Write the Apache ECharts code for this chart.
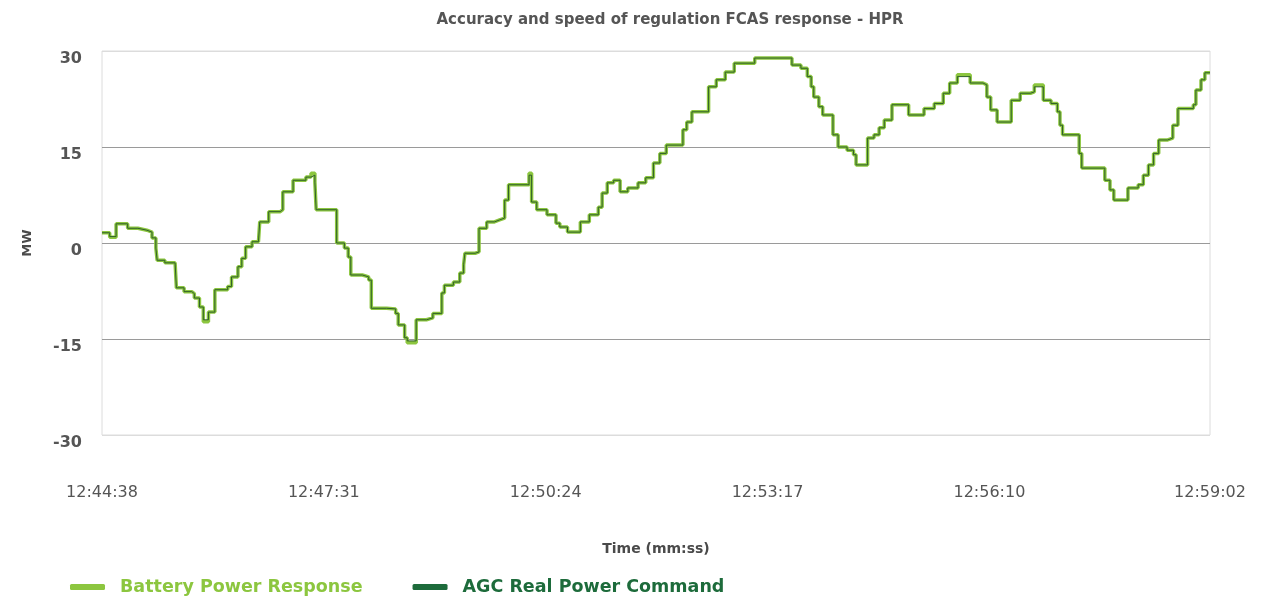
<!DOCTYPE html>
<html>
<head>
<meta charset="utf-8">
<title>Accuracy and speed of regulation FCAS response - HPR</title>
<script src="https://cdn.jsdelivr.net/npm/echarts@6/dist/echarts.min.js"></script>
<style>
    html, body { margin: 0; padding: 0; background: #fff; }
    #chart { width: 1266px; height: 598px; }
</style>
</head>
<body>
<div id="chart"></div>
<script>
// seconds after 12:44:38 at which each level starts
var timeSec = [0, 6, 11, 20, 28, 35, 39, 42, 43, 49, 57, 58, 64, 70, 72, 76, 79, 83, 88, 98,
    101, 106, 109, 112, 117, 122, 123, 130, 139, 141, 149, 159, 163, 166, 167, 183, 189, 192, 194, 203,
    208, 210, 222, 229, 231, 236, 238, 245, 253, 258, 265, 267, 274, 279, 282, 283, 291, 294, 300, 306,
    310, 314, 317, 333, 335, 339, 347, 354, 357, 363, 373, 380, 387, 390, 394, 399, 404, 410, 418, 424,
    430, 435, 440, 453, 456, 460, 473, 479, 486, 493, 509, 538, 545, 550, 553, 555, 559, 562, 570, 574,
    581, 586, 588, 597, 602, 606, 610, 616, 629, 641, 649, 656, 661, 667, 677, 687, 690, 693, 698, 709,
    716, 724, 727, 734, 740, 745, 747, 749, 762, 764, 782, 786, 789, 800, 808, 812, 816, 820, 824, 831,
    835, 839, 851, 853, 857, 860, 864];

var batteryMW = [1.6, 0.9, 3.0, 2.3, 2.0, 1.7, 0.8, -0.8, -2.7, -3.1, -3.4, -7.0, -7.6, -7.9, -8.6, -10.0, -12.3, -10.8, -7.3, -6.8,
    -5.3, -3.7, -2.4, -0.6, 0.2, 0.4, 3.3, 4.9, 5.2, 8.0, 9.8, 10.3, 10.9, 9.5, 5.2, 0.0, -0.8, -2.2, -5.0, -5.3,
    -5.8, -10.2, -10.3, -11.0, -12.8, -14.8, -15.6, -12.0, -11.7, -11.0, -7.8, -6.6, -6.1, -4.7, -3.4, -1.6, -1.4, 2.3, 3.3, 3.6,
    3.9, 6.7, 9.1, 10.9, 6.4, 5.2, 4.4, 3.1, 2.5, 1.7, 3.3, 4.4, 5.6, 7.8, 9.4, 9.8, 8.0, 8.6, 9.4, 10.2,
    12.5, 14.0, 15.3, 17.7, 18.9, 20.5, 24.4, 25.5, 26.7, 28.1, 28.9, 27.8, 27.3, 26.0, 24.4, 22.8, 21.3, 20.0, 16.9, 15.0,
    14.5, 13.8, 12.2, 16.4, 16.9, 18.0, 19.2, 21.6, 20.0, 21.0, 21.8, 23.4, 25.0, 26.3, 25.0, 24.7, 22.8, 20.8, 18.9, 22.3,
    23.4, 23.6, 24.7, 22.3, 21.8, 20.5, 18.4, 16.9, 14.0, 11.7, 9.8, 8.3, 6.7, 8.6, 9.1, 10.6, 12.2, 14.0, 16.1, 16.4,
    18.4, 21.0, 21.6, 23.9, 25.5, 26.6, 26.7];

var agcMW = [1.6, 1.0, 3.0, 2.3, 2.0, 1.7, 0.8, -0.8, -2.7, -3.1, -3.4, -7.0, -7.6, -7.9, -8.6, -10.0, -12.0, -10.8, -7.3, -6.8,
    -5.3, -3.7, -2.4, -0.6, 0.2, 0.4, 3.3, 4.9, 5.2, 8.0, 9.8, 10.3, 10.6, 9.5, 5.2, 0.0, -0.8, -2.2, -5.0, -5.3,
    -5.8, -10.2, -10.3, -11.0, -12.8, -14.8, -15.3, -12.0, -11.7, -11.0, -7.8, -6.6, -6.1, -4.7, -3.4, -1.6, -1.4, 2.3, 3.3, 3.6,
    3.9, 6.7, 9.1, 10.6, 6.4, 5.2, 4.4, 3.1, 2.5, 1.7, 3.3, 4.4, 5.6, 7.8, 9.4, 9.8, 8.0, 8.6, 9.4, 10.2,
    12.5, 14.0, 15.3, 17.7, 18.9, 20.5, 24.4, 25.5, 26.7, 28.1, 28.9, 27.8, 27.3, 26.0, 24.4, 22.8, 21.3, 20.0, 16.9, 15.0,
    14.5, 13.8, 12.2, 16.4, 16.9, 18.0, 19.2, 21.6, 20.0, 21.0, 21.8, 23.4, 25.0, 26.0, 25.0, 24.7, 22.8, 20.8, 18.9, 22.3,
    23.4, 23.6, 24.4, 22.3, 21.8, 20.5, 18.4, 16.9, 14.0, 11.7, 9.8, 8.3, 6.7, 8.6, 9.1, 10.6, 12.2, 14.0, 16.1, 16.4,
    18.4, 21.0, 21.6, 23.9, 25.5, 26.6, 26.7];

var timeTicks = [0, 173, 346, 519, 692, 864];
var startClock = 12 * 3600 + 44 * 60 + 38;
var seriesNames = ['Battery Power Response', 'AGC Real Power Command'];

function pad(n) {
    return (n < 10 ? '0' : '') + n;
}
function clockLabel(sec) {
    var t = startClock + Math.round(sec);
    return Math.floor(t / 3600) + ':' + pad(Math.floor(t / 60) % 60) + ':' + pad(t % 60);
}
function pairs(vals) {
    return timeSec.map(function (t, i) { return [t, vals[i]]; });
}

var chart = echarts.init(document.getElementById('chart'));
var font = 'DejaVu Sans';

var option = {
    animation: false,
    title: {
        text: 'Accuracy and speed of regulation FCAS response - HPR',
        left: 665,
        top: 8,
        textAlign: 'center',
        textStyle: { fontFamily: font, fontSize: 15, fontWeight: 'bold', color: '#555' }
    },
    legend: {
        left: 65,
        top: 573,
        icon: 'roundRect',
        itemWidth: 35,
        itemHeight: 6,
        itemGap: 50,
        textStyle: { fontFamily: font, fontSize: 17.5, fontWeight: 'bold', padding: [0, 0, 0, 10] },
        data: [
            { name: seriesNames[0], textStyle: { color: '#8cc63f' } },
            { name: seriesNames[1], textStyle: { color: '#1d6b3b' } }
        ]
    },
    grid: {
        left: 102,
        right: 56,
        top: 51,
        bottom: 163,
        show: true,
        borderColor: '#dcdcdc',
        borderWidth: 1
    },
    xAxis: {
        type: 'value',
        min: 0,
        max: 864,
        name: 'Time (mm:ss)',
        nameLocation: 'middle',
        nameGap: 107,
        nameTextStyle: { fontFamily: font, fontSize: 14, fontWeight: 'bold', color: '#4a4a4a' },
        axisLine: { show: false },
        axisTick: { show: false },
        splitLine: { show: false },
        axisLabel: {
            customValues: timeTicks,
            margin: 50,
            fontFamily: font,
            fontSize: 16,
            color: '#555',
            formatter: clockLabel
        }
    },
    yAxis: {
        type: 'value',
        min: -30,
        max: 30,
        interval: 15,
        name: 'MW',
        nameLocation: 'middle',
        nameGap: 68,
        nameRotate: 90,
        nameTextStyle: { fontFamily: font, fontSize: 13, fontWeight: 'bold', color: '#4a4a4a' },
        axisLine: { show: false },
        axisTick: { show: false },
        splitLine: {
            lineStyle: { color: ['#dcdcdc', '#9a9a9a', '#9a9a9a', '#9a9a9a', '#dcdcdc'], width: 1 }
        },
        axisLabel: {
            margin: 20,
            fontFamily: font,
            fontSize: 16,
            fontWeight: 'bold',
            color: '#555',
            verticalAlign: 'top'
        }
    },
    series: [
        {
            name: seriesNames[0],
            type: 'line',
            step: 'end',
            showSymbol: false,
            data: pairs(batteryMW),
            itemStyle: { color: '#8cc63f' },
            lineStyle: { color: '#8cc63f', width: 3.5 },
            z: 2
        },
        {
            name: seriesNames[1],
            type: 'line',
            step: 'end',
            showSymbol: false,
            data: pairs(agcMW),
            itemStyle: { color: '#1d6b3b' },
            lineStyle: { color: '#2f5f2a', width: 1 },
            z: 3
        }
    ]
};

chart.setOption(option);
window.addEventListener('resize', function () {
    chart.resize();
});
</script>
</body>
</html>
